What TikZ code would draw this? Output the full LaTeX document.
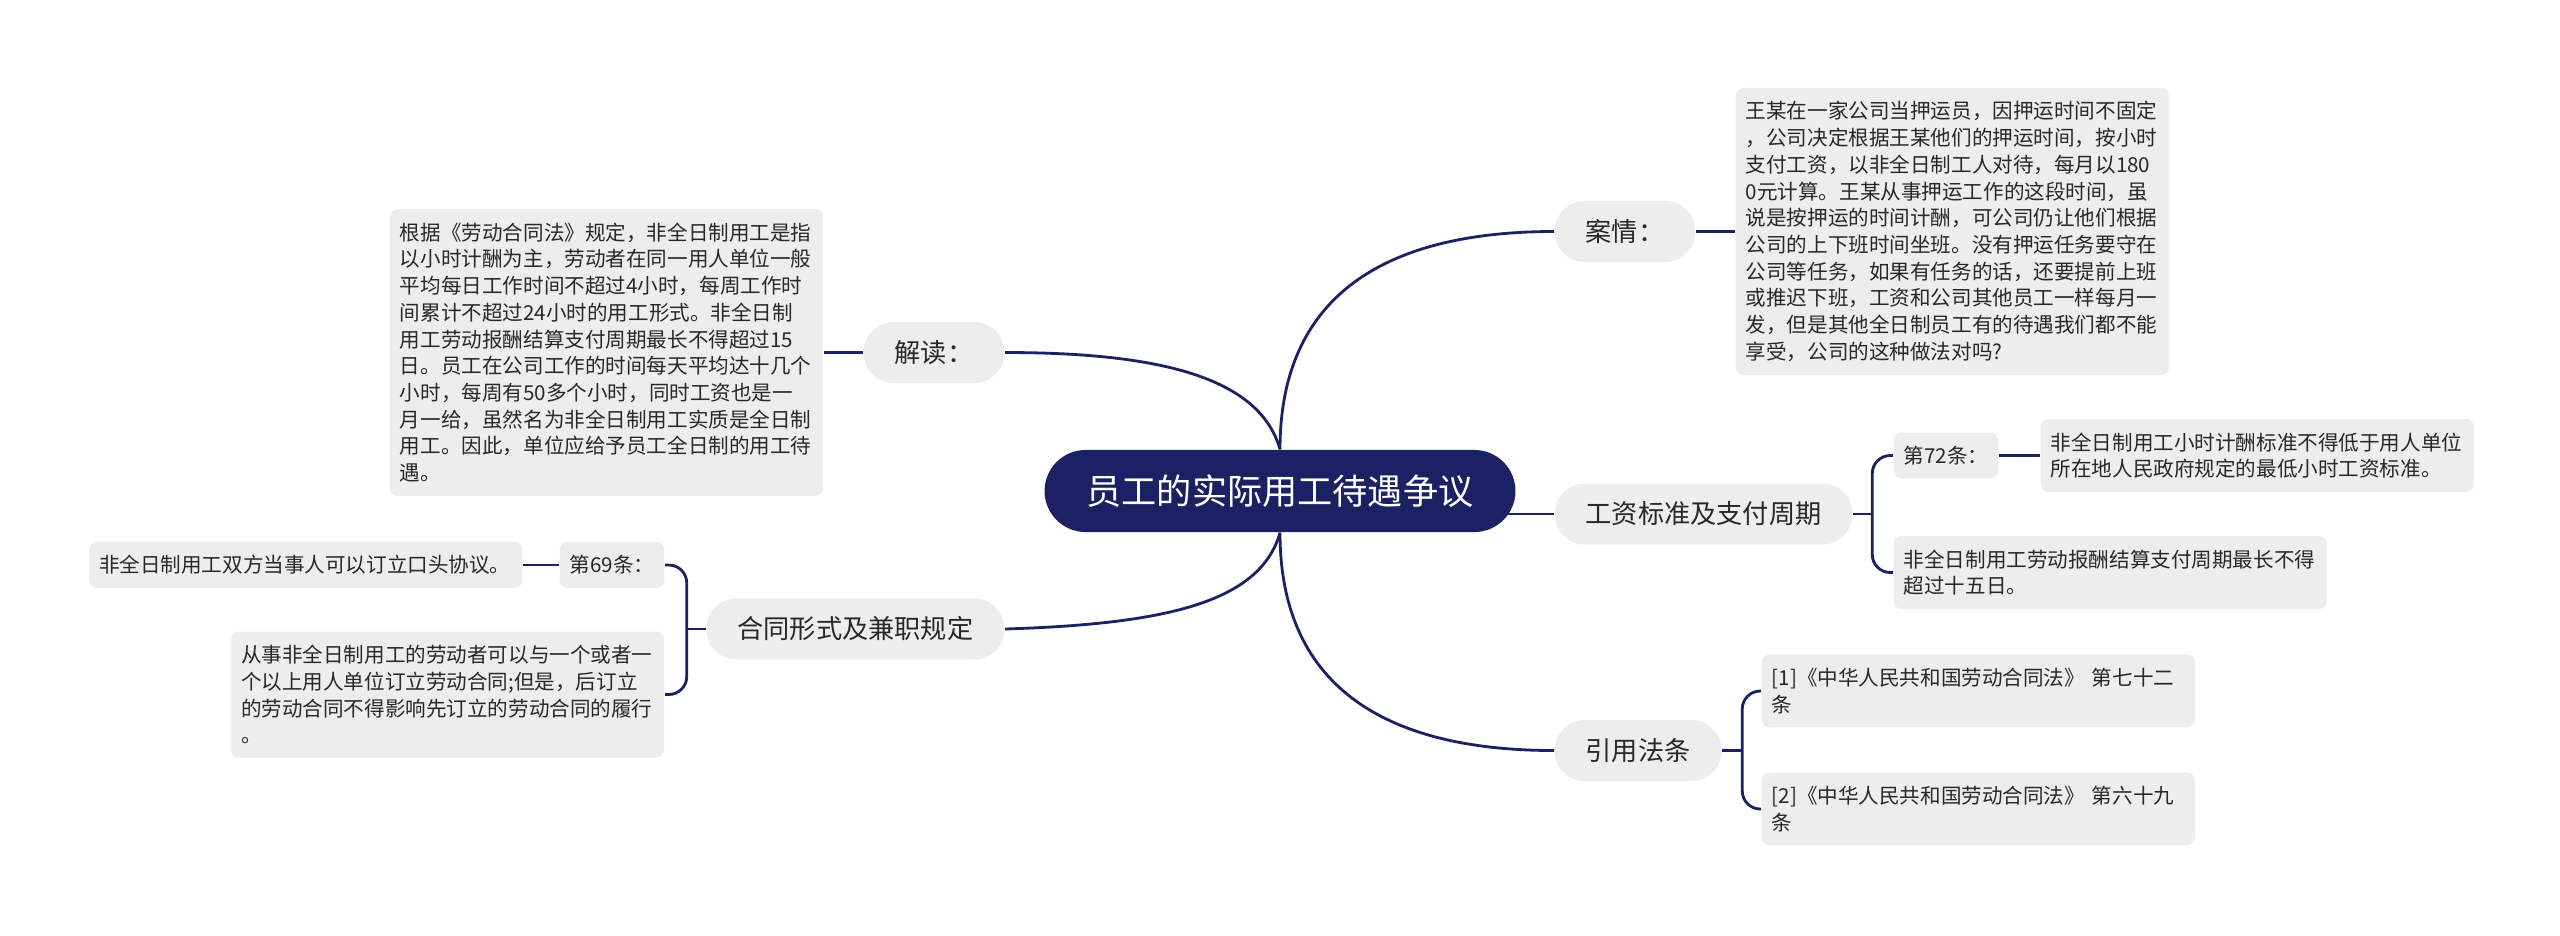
\documentclass[tikz,border=0pt]{standalone}
\usepackage{fontspec}
\setmainfont{Noto Sans CJK SC}
\usepackage{xcolor}
\usepackage{tikz}
\usetikzlibrary{positioning}
\definecolor{azulOscuro}{RGB}{27,33,99}
\definecolor{grisCaja}{RGB}{237,237,237}
\definecolor{tinta}{RGB}{40,40,40}

\begin{document}
\begin{tikzpicture}[x=0.01cm, y=-0.01cm,
        root/.style={fill=azulOscuro, text=white, rounded corners=0.41cm,
                     minimum height=0.82cm, inner xsep=0.42cm,
                     font=\fontsize{10pt}{12pt}\selectfont},
        topic/.style={fill=grisCaja, text=tinta, rounded corners=0.3cm,
                      minimum height=0.61cm, inner xsep=0.31cm,
                      font=\fontsize{7.45pt}{9pt}\selectfont},
        leaf/.style={fill=grisCaja, text=tinta, rounded corners=0.08cm, align=left,
                     text width=4.13cm, inner xsep=0.1cm, inner ysep=0.135cm,
                     minimum height=0.46cm, font=\fontsize{5.85pt}{7.6pt}\selectfont},
        tag/.style={fill=grisCaja, text=tinta, rounded corners=0.08cm,
                    inner xsep=0.1cm, minimum height=0.46cm,
                    font=\fontsize{5.85pt}{7.6pt}\selectfont},
        branch/.style={draw=azulOscuro, line width=0.8pt},
        node distance=0.39cm
    ]
        \path[use as bounding box, fill=white] (0,0) rectangle (2560,935);

        \node[root] (root) at (1280,491) {员工的实际用工待遇争议};
        \node[topic, anchor=west] (anqing) at (1554,231.5) {案情：};
        \node[topic, anchor=west] (gongzi) at (1554,514) {工资标准及支付周期};
        \node[topic, anchor=west] (yinyong) at (1554,750.5) {引用法条};
        \node[topic, anchor=east] (jiedu) at (1005,352.5) {解读：};
        \node[topic, anchor=east] (hetong) at (1005,629) {合同形式及兼职规定};

        \node[leaf, right=of anqing] (anqingtxt) {王某在一家公司当押运员，因押运时间不固定\\
            ，公司决定根据王某他们的押运时间，按小时\\
            支付工资，以非全日制工人对待，每月以180\\
            0元计算。王某从事押运工作的这段时间，虽\\
            说是按押运的时间计酬，可公司仍让他们根据\\
            公司的上下班时间坐班。没有押运任务要守在\\
            公司等任务，如果有任务的话，还要提前上班\\
            或推迟下班，工资和公司其他员工一样每月一\\
            发，但是其他全日制员工有的待遇我们都不能\\
            享受，公司的这种做法对吗?};
        \node[leaf, left=of jiedu] (jiedutxt) {根据《劳动合同法》规定，非全日制用工是指\\
            以小时计酬为主，劳动者在同一用人单位一般\\
            平均每日工作时间不超过4小时，每周工作时\\
            间累计不超过24小时的用工形式。非全日制\\
            用工劳动报酬结算支付周期最长不得超过15\\
            日。员工在公司工作的时间每天平均达十几个\\
            小时，每周有50多个小时，同时工资也是一\\
            月一给，虽然名为非全日制用工实质是全日制\\
            用工。因此，单位应给予员工全日制的用工待\\
            遇。};

        \node[tag, anchor=west] (t72) at (1893,455.5) {第72条：};
        \node[leaf, right=0.41cm of t72] (t72txt) {非全日制用工小时计酬标准不得低于用人单位\\
            所在地人民政府规定的最低小时工资标准。};
        \node[leaf, anchor=west] (zhouqi) at (1893,572.5) {非全日制用工劳动报酬结算支付周期最长不得\\
            超过十五日。};
        \node[leaf, anchor=west] (fa1) at (1761,691) {[1]《中华人民共和国劳动合同法》 第七十二\\条};
        \node[leaf, anchor=west] (fa2) at (1761,809) {[2]《中华人民共和国劳动合同法》 第六十九\\条};

        \node[tag, anchor=east] (t69) at (665,565) {第69条：};
        \node[leaf, left=0.36cm of t69] (t69txt) {非全日制用工双方当事人可以订立口头协议。};
        \node[leaf, anchor=east] (jianzhi) at (665,694.5) {从事非全日制用工的劳动者可以与一个或者一\\
            个以上用人单位订立劳动合同;但是，后订立\\
            的劳动合同不得影响先订立的劳动合同的履行\\
            。};

        \draw[branch] (root.north) .. controls +(0,-150) and +(-174,0) .. (anqing.west);
        \draw[branch] (root.south) .. controls +(0,150) and +(-174,0) .. (yinyong.west);
        \draw[branch] (root.north) .. controls +(-20,-70) and +(160,0) .. (jiedu.east);
        \draw[branch] (root.south) .. controls +(-20,70) and +(160,-5) .. (hetong.east);
        \draw[branch] ([xshift=-0.08cm]root.east |- gongzi.west) -- (gongzi.west);

        \draw[branch] (anqing) -- (anqingtxt);
        \draw[branch] (jiedu) -- (jiedutxt);
        \draw[branch] (t72) -- (t72txt);
        \draw[branch] (t69) -- (t69txt);

        \coordinate (gzfork) at ([xshift=0.19cm]gongzi.east);
        \draw[branch] (gongzi.east) -- (gzfork);
        \draw[branch, rounded corners=0.18cm] (t72.west) -| (gzfork) |- (zhouqi.west);
        \coordinate (yyfork) at ([xshift=0.2cm]yinyong.east);
        \draw[branch] (yinyong.east) -- (yyfork);
        \draw[branch, rounded corners=0.18cm] (fa1.west) -| (yyfork) |- (fa2.west);
        \coordinate (htfork) at ([xshift=-0.19cm]hetong.west);
        \draw[branch] (hetong.west) -- (htfork);
        \draw[branch, rounded corners=0.18cm] (t69.east) -| (htfork) |- (jianzhi.east);
    \end{tikzpicture}
\end{document}
